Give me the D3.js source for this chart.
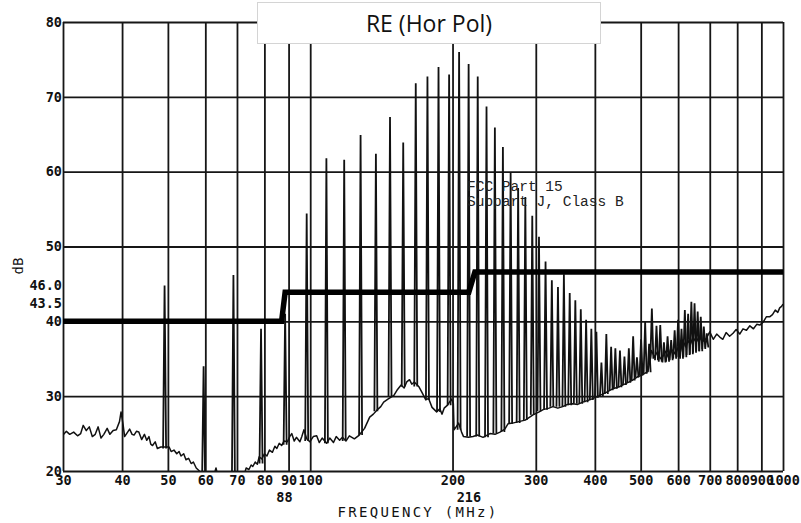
<!DOCTYPE html>
<html>
<head>
<meta charset="utf-8">
<script src="https://cdn.jsdelivr.net/npm/d3@7"></script>
<style>
  body { margin: 0; background: #fff; }
  .tick line { stroke: #161616; stroke-width: 1.8; }
  .tick text { font-family: "DejaVu Sans Mono", monospace; font-weight: bold; font-size: 13.5px; fill: #111; }
</style>
</head>
<body>
<script>
(function() {
  // grid / tick values (MHz and dB)
  let gridFreqs = [30, 40, 50, 60, 70, 80, 90, 100, 200, 300, 400, 500, 600, 700, 800, 900, 1000];
  let subFreqs = [88, 216];
  let gridDb = [20, 30, 40, 50, 60, 70, 80];
  let limitLabels = [43.5, 46.0];

  // FCC limit line as drawn on the plot
  let limitFreq = [30, 87, 88.5, 216.5, 223, 1000];
  let limitDb = [40, 40, 43.9, 43.9, 46.6, 46.6];

  // noise floor of the trace [MHz, dB]
  let floorTrace = [
    [30, 24.8], [30.5, 25.3], [31, 24.9], [31.6, 25.2], [32.2, 24.7], [32.7, 25.0], [33.1, 26.1], [33.6, 25.4],
    [34.1, 25.9], [34.6, 24.6], [35.1, 24.9], [35.6, 25.9], [36.1, 24.4], [36.6, 24.9], [37.2, 25.7], [37.7, 24.9],
    [38.3, 25.4], [38.9, 25.5], [39.5, 26.6], [39.8, 27.9], [40.2, 26.2], [40.5, 24.6], [41.0, 25.1], [41.5, 25.6],
    [42.0, 24.9], [42.4, 24.8], [42.9, 25.3], [43.4, 25.2], [44.0, 24.2], [44.6, 24.9], [45.1, 24.1], [45.6, 24.6],
    [46.0, 23.6], [46.4, 23.4], [47.0, 23.9], [47.5, 23.0], [48.3, 23.2], [50.3, 23.2], [50.8, 22.6], [51.5, 22.8],
    [52.2, 22.3], [52.8, 22.6], [53.3, 22.0], [54.0, 22.3], [54.6, 21.5], [55.3, 21.7], [56.0, 21.0], [56.6, 21.2],
    [57.4, 20.4], [58.3, 20.0], [59, 19.3], [62.6, 19.5], [63.2, 20.4], [63.7, 19.5], [72.5, 19.5], [73.2, 20.4],
    [74.2, 20.2], [75.0, 20.8], [75.6, 20.6], [76.5, 21.2], [77.3, 20.9], [78.0, 21.9], [79.0, 21.6], [80.0, 22.3],
    [81.0, 22.0], [82.0, 22.8], [83.2, 22.5], [84.2, 23.3], [85.0, 23.0], [86.0, 23.7], [87.0, 23.4], [88.0, 24.0],
    [89.5, 23.9], [90.5, 24.6], [91.4, 25.0], [92.5, 24.0], [93.5, 24.5], [95.1, 23.9], [96.0, 24.6], [97.0, 25.5],
    [98.3, 24.3], [99.8, 23.9], [101.5, 24.6], [103.2, 24.7], [104.5, 23.8], [106, 24.4], [108.3, 23.7], [110, 24.4],
    [112, 23.8], [113.5, 24.6], [115.4, 24.1], [117, 24.5], [119, 24.0], [121, 24.7], [124, 24.3], [127, 24.8],
    [130.3, 25.7], [133.6, 27.2], [136, 27.6], [138.2, 28.1], [141, 28.6], [143, 29.2], [146, 29.6], [150.3, 30.1],
    [153, 30.9], [155.7, 31.5], [158, 31.1], [160, 31.9], [162.2, 32.2], [164, 31.6], [166, 31.9], [169.6, 31.3],
    [172, 30.6], [175.6, 29.5], [178, 29.7], [181, 28.5], [185.1, 27.9], [188, 28.3], [190, 27.6], [192, 28.4],
    [195.2, 28.8], [197, 29.2], [199, 29.6], [200.8, 29.0], [201.5, 25.5], [204, 26.0], [206, 26.4], [209, 25.2],
    [211, 24.6], [216, 24.5], [221, 24.6], [226, 24.8], [232, 24.5], [240, 25.0], [246, 24.9], [252, 25.2],
    [258, 25.6], [262, 26.3], [268, 26.4], [276, 26.6], [285, 26.8], [296, 27.5], [305, 27.9], [311, 28.2],
    [320, 28.4], [326, 28.6], [334, 28.4], [342, 28.6], [350, 28.9], [359, 29.0], [368, 28.9], [377, 29.2],
    [390, 29.5], [400, 29.8], [410, 30.1], [423, 30.5], [437, 31.0], [452, 31.3], [466, 31.7], [480, 32.1],
    [493, 32.6], [506, 32.9], [518, 33.3], [524, 35.0], [527, 36.1], [535, 35.2], [543, 36.0], [550, 35.0],
    [557, 35.3], [565, 36.0], [572, 35.2], [578, 36.2], [585, 36.1], [592, 35.6], [600, 36.5], [607, 36.0],
    [614, 37.5], [622, 36.6], [630, 37.4], [637, 36.9], [645, 37.9], [655, 37.2], [665, 38.0], [675, 37.3],
    [688, 37.7], [700, 38.6], [712, 37.6], [724, 38.3], [735, 37.9], [746, 37.6], [758, 38.5], [771, 38.0],
    [784, 38.4], [796, 38.9], [810, 38.3], [823, 39.0], [837, 38.8], [851, 39.4], [866, 39.0], [880, 39.6],
    [893, 39.5], [908, 39.9], [922, 40.6], [937, 40.6], [950, 40.9], [963, 41.5], [975, 41.2], [984, 41.8],
    [993, 42.0], [1000, 42.3]
  ];

  // emission spikes [MHz, bottom dB, peak dB]
  let spikes = [
    [49.2, 23.0, 44.8], [59.5, 19.0, 34.0], [68.8, 19.0, 46.2], [78.7, 21.0, 39.0], [88.5, 23.5, 41.0],
    [98.3, 24.0, 54.4], [108.2, 23.7, 61.8], [118, 24.0, 61.6], [127.8, 24.8, 64.9], [137.7, 28.0, 62.4],
    [147.5, 30.0, 67.3], [157.3, 31.3, 63.9], [167.2, 31.3, 71.8], [177, 29.5, 72.7], [186.8, 27.9, 74.0],
    [196.7, 28.8, 73.0], [206.5, 25.5, 76.0], [216.3, 24.6, 74.4], [226.1, 24.6, 72.7], [236, 24.5, 68.7],
    [245.8, 25.0, 65.9], [255.6, 25.2, 63.3], [265.4, 26.3, 59.9], [275.3, 26.4, 57.8], [285.1, 26.8, 56.6],
    [294.9, 27.5, 54.1], [304.7, 28.0, 51.3], [314.6, 28.2, 48.0], [324.4, 28.6, 45.5], [334.2, 28.6, 44.6],
    [344, 28.6, 46.3], [353.9, 28.8, 43.8], [363.7, 29.0, 42.8], [373.5, 29.0, 41.6], [383.3, 29.2, 40.2],
    [393.2, 29.5, 39.0], [403, 29.8, 38.6], [413, 30.0, 34.5], [423, 30.3, 38.3], [433, 30.8, 36.6],
    [442, 31.0, 36.4], [452, 31.2, 36.1], [462, 31.5, 35.3], [472, 31.8, 36.4], [482, 32.1, 38.0],
    [491, 32.5, 35.2], [501, 32.8, 37.6], [511, 33.0, 39.9], [521, 33.2, 37.0], [528, 35.0, 41.7],
    [540, 34.8, 39.4], [550, 34.6, 39.5], [560, 34.5, 37.2], [570, 34.6, 38.0], [580, 34.8, 37.5],
    [590, 35.0, 38.8], [600, 35.2, 40.2], [610, 35.0, 39.0], [620, 35.2, 41.5], [630, 35.5, 41.0],
    [640, 35.6, 42.6], [650, 35.8, 42.4], [660, 36.0, 41.3], [670, 36.0, 40.6], [680, 36.3, 39.3],
    [690, 36.5, 38.4]
  ];

  let svg = "";

  window.onload = function() {
    svg = d3.select('body')
      .append('svg')
        .attr('width', 801)
        .attr('height', 523);
    drawChart();
  }

  function drawChart() {
    let x = d3.scaleLog().domain([30, 1000]).range([63, 783]);
    let y = d3.scaleLinear().domain([20, 80]).range([471, 22]);

    // clip trace to plot area
    svg.append('clipPath').attr('id', 'plotClip')
      .append('rect')
        .attr('x', 63).attr('y', 22)
        .attr('width', 720).attr('height', 449);

    // vertical grid + frequency labels
    let xAxis = d3.axisBottom(x)
      .tickValues(gridFreqs)
      .tickFormat(d3.format('d'))
      .tickSizeInner(-449)
      .tickSizeOuter(0)
      .tickPadding(4);
    let gx = svg.append('g')
      .attr('transform', 'translate(0, 471)')
      .call(xAxis);
    gx.select('.domain').remove();

    // second row of labels (88, 216)
    let xAxis2 = d3.axisBottom(x)
      .tickValues(subFreqs)
      .tickFormat(d3.format('d'))
      .tickSize(0)
      .tickPadding(21);
    let gx2 = svg.append('g')
      .attr('transform', 'translate(0, 471)')
      .call(xAxis2);
    gx2.select('.domain').remove();

    // horizontal grid + dB labels
    let yAxis = d3.axisLeft(y)
      .tickValues(gridDb)
      .tickSizeInner(-720)
      .tickSizeOuter(0)
      .tickPadding(1);
    let gy = svg.append('g')
      .attr('transform', 'translate(63, 0)')
      .call(yAxis);
    gy.select('.domain').remove();
    gy.selectAll('.tick line').attr('stroke-width', 1.6);

    // limit level labels, sit a bit under their level
    let yAxis2 = d3.axisLeft(y)
      .tickValues(limitLabels)
      .tickFormat(d3.format('.1f'))
      .tickSize(0)
      .tickPadding(1);
    let gy2 = svg.append('g')
      .attr('transform', 'translate(63, 0)')
      .call(yAxis2);
    gy2.select('.domain').remove();
    gy2.selectAll('text').attr('dy', '0.95em');

    // trace: floor + spikes
    let plot = svg.append('g').attr('clip-path', 'url(#plotClip)');
    let line = d3.line()
      .x((d) => x(d[0]))
      .y((d) => y(d[1]));
    plot.append('path')
      .datum(floorTrace)
      .attr('d', line)
      .attr('fill', 'none')
      .attr('stroke', '#111')
      .attr('stroke-width', 1.5)
      .attr('stroke-linejoin', 'round');

    plot.selectAll('.spike')
      .data(spikes)
      .enter()
      .append('path')
        .attr('class', 'spike')
        .attr('d', (d) => {
          let cx = x(d[0]);
          return 'M' + (cx - 1.5) + ',' + y(d[1]) + 'L' + cx + ',' + y(d[2]) + 'L' + (cx + 1.5) + ',' + y(d[1]);
        })
        .attr('fill', 'none')
        .attr('stroke', '#111')
        .attr('stroke-width', 1.8);

    // limit line
    let limitPts = limitFreq.map((f, i) => [f, limitDb[i]]);
    svg.append('path')
      .datum(limitPts)
      .attr('d', line)
      .attr('fill', 'none')
      .attr('stroke', '#000')
      .attr('stroke-width', 5.5);

    // annotation
    svg.append('text')
      .attr('x', 467).attr('y', 191)
      .style('font-family', '"Liberation Mono", monospace')
      .style('font-size', '14.5px')
      .attr('fill', '#222')
      .text('FCC Part 15');
    svg.append('text')
      .attr('x', 467).attr('y', 206)
      .style('font-family', '"Liberation Mono", monospace')
      .style('font-size', '14.5px')
      .attr('fill', '#222')
      .text('Subpart J, Class B');

    // axis titles
    svg.append('text')
      .attr('x', 418).attr('y', 517)
      .attr('text-anchor', 'middle')
      .style('font-family', '"DejaVu Sans Mono", monospace')
      .style('font-size', '14px')
      .style('letter-spacing', '2.3px')
      .attr('fill', '#111')
      .text('FREQUENCY (MHz)');
    svg.append('text')
      .attr('transform', 'translate(23, 266) rotate(-90)')
      .attr('text-anchor', 'middle')
      .style('font-family', '"DejaVu Sans Mono", monospace')
      .style('font-size', '14px')
      .attr('fill', '#111')
      .text('dB');

    // title box
    svg.append('rect')
      .attr('x', 257.5).attr('y', 2.5)
      .attr('width', 343).attr('height', 41)
      .attr('fill', '#fff')
      .attr('stroke', '#d4d4d4');
    svg.append('text')
      .attr('x', 429).attr('y', 32)
      .attr('text-anchor', 'middle')
      .style('font-family', '"Open Sans", sans-serif')
      .style('font-size', '23px')
      .attr('fill', '#111')
      .text('RE (Hor Pol)');
  }
})();
</script>
</body>
</html>
